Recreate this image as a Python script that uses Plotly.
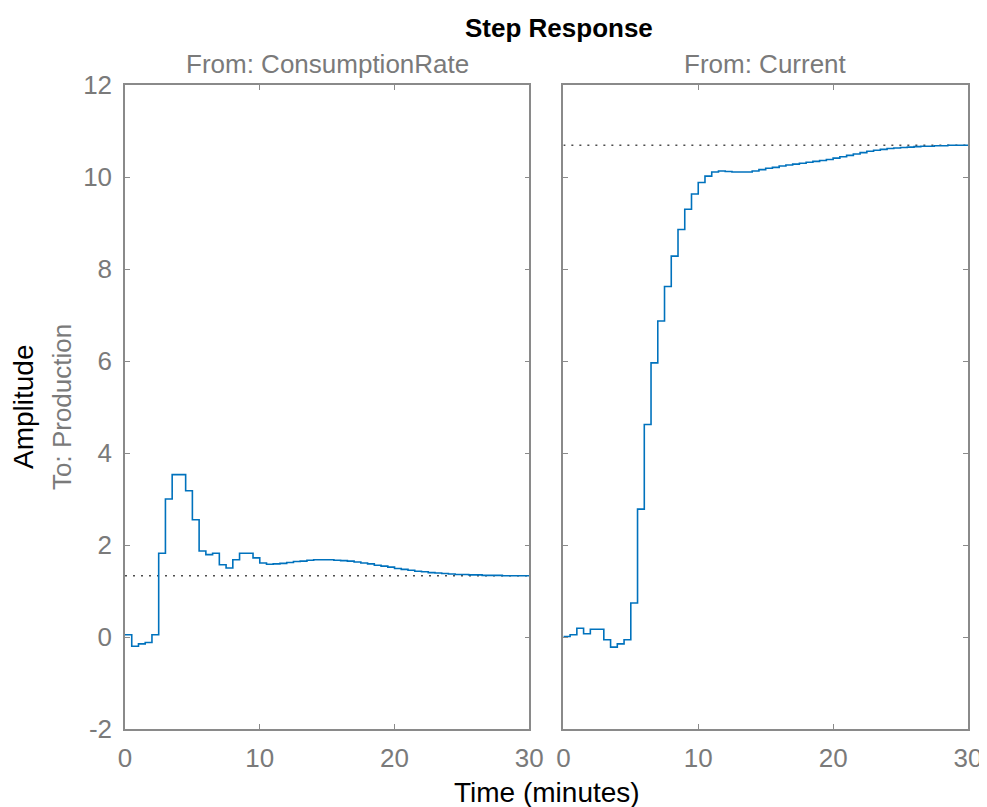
import plotly.graph_objects as go
from plotly.subplots import make_subplots

# sample times (minutes), 0.5 min steps
time_min = [i * 0.5 for i in range(61)]

# To: Production, From: ConsumptionRate
resp_consumption = [
    0.05, -0.20, -0.15, -0.12, 0.05, 1.82, 3.00, 3.53, 3.53, 3.18,
    2.55, 1.87, 1.79, 1.82, 1.57, 1.50, 1.68, 1.82, 1.82, 1.72,
    1.61, 1.58, 1.59, 1.60, 1.62, 1.64, 1.65, 1.67, 1.68, 1.68,
    1.68, 1.67, 1.66, 1.65, 1.63, 1.61, 1.59, 1.56, 1.54, 1.52,
    1.49, 1.47, 1.45, 1.43, 1.42, 1.40, 1.39, 1.38, 1.37, 1.36,
    1.36, 1.35, 1.35, 1.34, 1.34, 1.34, 1.33, 1.33, 1.33, 1.33,
    1.33,
]

# To: Production, From: Current
resp_current = [
    0.01, 0.05, 0.19, 0.07, 0.17, 0.17, -0.06, -0.22, -0.15, -0.06,
    0.74, 2.78, 4.62, 5.96, 6.87, 7.62, 8.28, 8.86, 9.30, 9.63,
    9.88, 10.02, 10.11, 10.13, 10.12, 10.11, 10.11, 10.11, 10.13, 10.16,
    10.19, 10.21, 10.24, 10.26, 10.28, 10.30, 10.32, 10.34, 10.36, 10.38,
    10.41, 10.44, 10.47, 10.50, 10.53, 10.56, 10.58, 10.60, 10.62, 10.63,
    10.64, 10.65, 10.66, 10.67, 10.67, 10.68, 10.68, 10.69, 10.69, 10.69,
    10.69,
]

steady_state = [1.33, 10.69]
input_names = ["ConsumptionRate", "Current"]
x_ticks = [0, 10, 20, 30]
y_ticks = [-2, 0, 2, 4, 6, 8, 10, 12]
y_tick_labels = ["-2", "0", "2", "4", "6", "8", "10", "12"]

LINE_BLUE = "#0072BD"
AXIS_GRAY = "#8a8a8a"
TEXT_GRAY = "#7a7a7a"
FONT = "Liberation Sans, Arial, sans-serif"
DOMAINS = [[0, 0.4796], [0.52, 1]]

fig = make_subplots(rows=1, cols=2, horizontal_spacing=0.04)
fig.update_layout(
    xaxis=dict(domain=DOMAINS[0]),
    xaxis2=dict(domain=DOMAINS[1]),
)

for col, resp in enumerate([resp_consumption, resp_current], start=1):
    # steady-state reference line
    fig.add_trace(
        go.Scatter(
            x=[x_ticks[0], x_ticks[-1]],
            y=[steady_state[col - 1]] * 2,
            mode="lines",
            line=dict(color="#4d4d4d", width=1.5, dash="2px,6px"),
            showlegend=False,
            hoverinfo="skip",
        ),
        row=1,
        col=col,
    )
    fig.add_trace(
        go.Scatter(
            x=time_min,
            y=resp,
            mode="lines",
            line=dict(color=LINE_BLUE, width=1.6, shape="hv"),
            showlegend=False,
        ),
        row=1,
        col=col,
    )

axis_style = dict(
    showgrid=False,
    zeroline=False,
    showline=True,
    automargin=False,
    linecolor=AXIS_GRAY,
    linewidth=1.5,
    mirror="ticks",
    ticks="inside",
    ticklen=5,
    tickwidth=1,
    tickcolor=AXIS_GRAY,
    tickfont=dict(family=FONT, size=26, color=TEXT_GRAY),
)

fig.update_xaxes(
    **axis_style, range=[0, 30], tickvals=x_ticks, ticklabelstandoff=5
)
fig.update_yaxes(
    **axis_style, range=[-2, 12], tickvals=y_ticks, ticktext=y_tick_labels,
    ticklabelstandoff=6,
)
fig.update_yaxes(showticklabels=False, row=1, col=2)

annotations = [
    dict(
        text="<b>Step Response</b>",
        x=0.5, y=1, xref="paper", yref="paper",
        xanchor="center", yanchor="middle",
        xshift=12, yshift=57, showarrow=False,
        font=dict(family=FONT, size=26, color="#000000"),
    ),
    dict(
        text="Time (minutes)",
        x=0.5, y=0, xref="paper", yref="paper",
        xanchor="center", yanchor="middle",
        yshift=-63, showarrow=False,
        font=dict(family=FONT, size=28, color="#000000"),
    ),
    dict(
        text="Amplitude",
        x=0, y=0.5, xref="paper", yref="paper", xanchor="center",
        xshift=-102, showarrow=False, textangle=-90,
        font=dict(family=FONT, size=28, color="#000000"),
    ),
    dict(
        text="To: Production",
        x=0, y=0.5, xref="paper", yref="paper", xanchor="center",
        xshift=-63, showarrow=False, textangle=-90,
        font=dict(family=FONT, size=26, color=TEXT_GRAY),
    ),
]
for name, dom in zip(input_names, DOMAINS):
    annotations.append(
        dict(
            text=f"From: {name}",
            x=(dom[0] + dom[1]) / 2, y=1, xref="paper", yref="paper",
            xanchor="center", yanchor="middle", yshift=21, showarrow=False,
            font=dict(family=FONT, size=26, color=TEXT_GRAY),
        )
    )

# page body adds an 8px margin, so the figure is offset by it
fig.update_layout(
    width=979,
    height=799,
    margin=dict(l=117, r=19, t=77, b=78),
    plot_bgcolor="white",
    paper_bgcolor="white",
    font=dict(family=FONT),
    annotations=annotations,
    showlegend=False,
)

fig.write_html("out.html")
